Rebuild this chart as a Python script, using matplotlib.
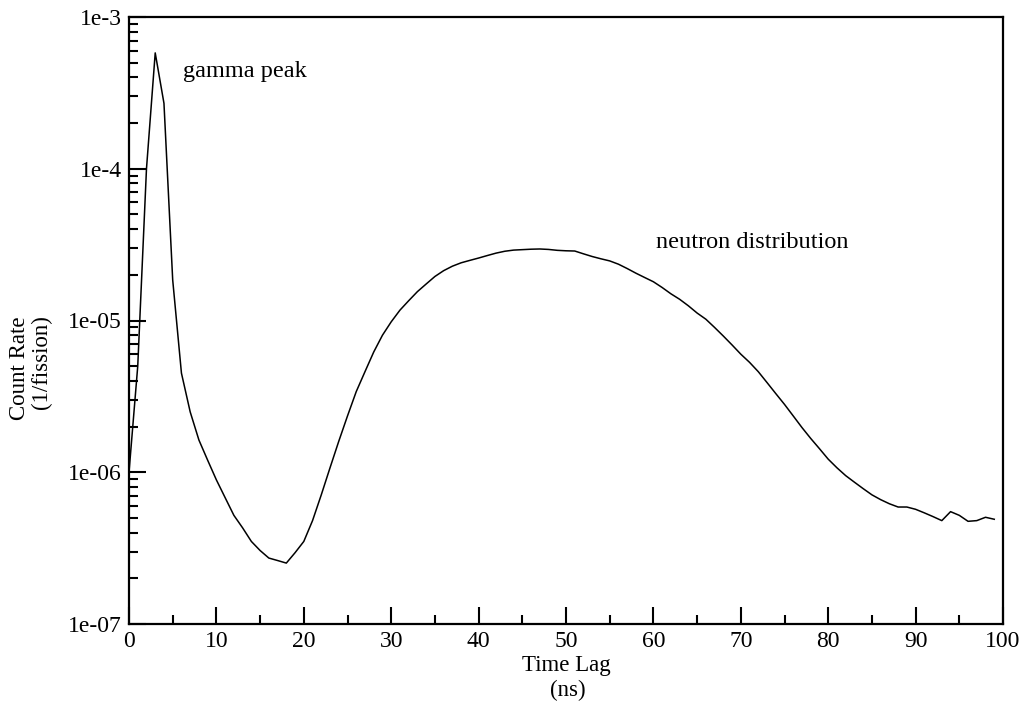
import matplotlib
matplotlib.use("Agg")
import matplotlib.pyplot as plt
from matplotlib.ticker import FixedLocator, FixedFormatter, MultipleLocator, LogLocator, NullFormatter

# Time lag (ns) and count rate (1/fission)
time_lag = list(range(0, 100))
count_rate = [
    1.0e-6, 5.0e-6, 1.0e-4, 5.8e-4, 2.7e-4, 1.85e-5, 4.5e-6, 2.5e-6, 1.63e-6, 1.2e-6,
    8.9e-7, 6.8e-7, 5.2e-7, 4.3e-7, 3.5e-7, 3.05e-7, 2.72e-7, 2.62e-7, 2.52e-7, 2.95e-7,
    3.5e-7, 4.8e-7, 7.1e-7, 1.07e-6, 1.6e-6, 2.35e-6, 3.4e-6, 4.6e-6, 6.2e-6, 8.0e-6,
    9.8e-6, 1.17e-5, 1.35e-5, 1.55e-5, 1.74e-5, 1.95e-5, 2.13e-5, 2.28e-5, 2.4e-5, 2.49e-5,
    2.58e-5, 2.68e-5, 2.78e-5, 2.86e-5, 2.91e-5, 2.93e-5, 2.95e-5, 2.96e-5, 2.94e-5, 2.9e-5,
    2.88e-5, 2.87e-5, 2.75e-5, 2.64e-5, 2.55e-5, 2.47e-5, 2.35e-5, 2.2e-5, 2.05e-5, 1.92e-5,
    1.8e-5, 1.65e-5, 1.5e-5, 1.38e-5, 1.25e-5, 1.12e-5, 1.02e-5, 9.0e-6, 7.9e-6, 6.9e-6,
    6.0e-6, 5.3e-6, 4.6e-6, 3.9e-6, 3.3e-6, 2.8e-6, 2.35e-6, 1.97e-6, 1.67e-6, 1.43e-6,
    1.22e-6, 1.07e-6, 9.5e-7, 8.6e-7, 7.8e-7, 7.1e-7, 6.6e-7, 6.2e-7, 5.9e-7, 5.9e-7,
    5.7e-7, 5.4e-7, 5.1e-7, 4.8e-7, 5.5e-7, 5.2e-7, 4.75e-7, 4.8e-7, 5.05e-7, 4.9e-7,
]

y_ticks = [1e-7, 1e-6, 1e-5, 1e-4, 1e-3]
y_tick_labels = ["1e-07", "1e-06", "1e-05", "1e-4", "1e-3"]
x_ticks = [0, 10, 20, 30, 40, 50, 60, 70, 80, 90, 100]

plt.rcParams["font.family"] = ["Liberation Serif", "DejaVu Serif"]

fig = plt.figure(figsize=(10.27, 7.07), dpi=100)
ax = fig.add_axes([129 / 1027, 1 - 624 / 707, 874 / 1027, 607 / 707])

ax.plot(time_lag, count_rate, color="black", linewidth=1.1)

ax.set_yscale("log")
ax.set_xlim(0, 100)
ax.set_ylim(1e-7, 1e-3)

ax.yaxis.set_major_locator(FixedLocator(y_ticks))
ax.yaxis.set_major_formatter(FixedFormatter(y_tick_labels))
ax.yaxis.set_minor_locator(LogLocator(base=10, subs=range(2, 10)))
ax.yaxis.set_minor_formatter(NullFormatter())
ax.xaxis.set_major_locator(FixedLocator(x_ticks))
ax.xaxis.set_minor_locator(MultipleLocator(5))

for s in ax.spines.values():
    s.set_linewidth(1.6)
    s.set_color("black")

ax.tick_params(which="both", direction="in", top=False, right=False,
               width=1.5, labelsize=17, colors="black")
ax.tick_params(which="major", length=12.5, pad=5)
ax.tick_params(which="minor", length=6.5)

ax.text(6.2, 4.35e-4, "gamma peak", fontsize=17.5, ha="left", va="center")
ax.text(60.3, 3.29e-5, "neutron distribution", fontsize=17.5, ha="left", va="center")

fig.text(566 / 1027, 1 - 665 / 707, "Time Lag", fontsize=16.5, ha="center", va="center")
fig.text(568 / 1027, 1 - 690 / 707, "(ns)", fontsize=16.5, ha="center", va="center")
fig.text(20 / 1027, 1 - 368 / 707, "Count Rate", fontsize=16.5, ha="center", va="center", rotation=90)
fig.text(41 / 1027, 1 - 362 / 707, "(1/fission)", fontsize=16.5, ha="center", va="center", rotation=90)

fig.savefig("out.png", dpi=100, facecolor="white")
